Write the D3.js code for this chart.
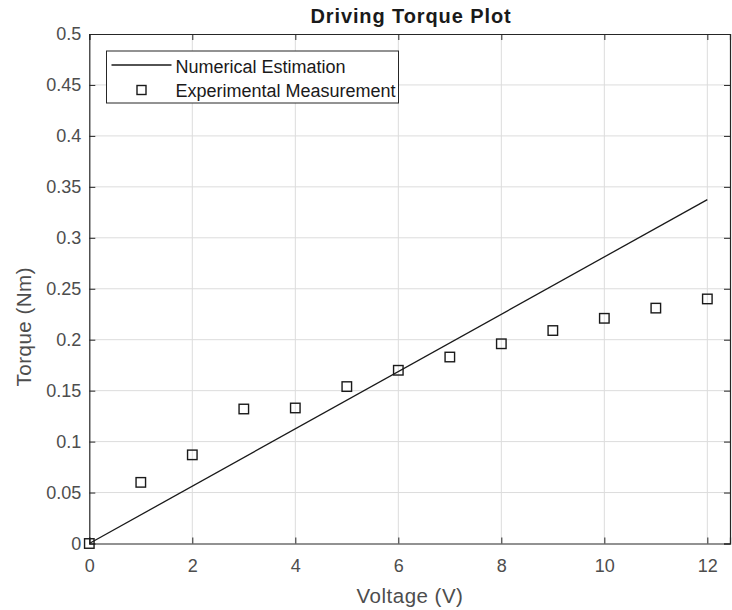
<!DOCTYPE html>
<html>
<head>
<meta charset="utf-8">
<script src="https://cdn.jsdelivr.net/npm/d3@7"></script>
<style>
  body { margin: 0; background: #ffffff; }
  text { font-family: "Liberation Sans", Arial, sans-serif; }
</style>
</head>
<body>
<script>
// measured points
const voltage = [0, 1, 2, 3, 4, 5, 6, 7, 8, 9, 10, 11, 12];
const torqueMeasured = [0, 0.060, 0.087, 0.132, 0.133, 0.154, 0.170, 0.183, 0.196, 0.209, 0.221, 0.231, 0.240];
// numerical estimate (straight line)
const estVoltage = [0, 12];
const torqueEstimated = [0, 0.3375];
const xTicks = [0, 2, 4, 6, 8, 10, 12];
const yTicks = [0, 0.05, 0.1, 0.15, 0.2, 0.25, 0.3, 0.35, 0.4, 0.45, 0.5];
const legendLabels = ["Numerical Estimation", "Experimental Measurement"];

const width = 732, height = 610;
const margin = {top: 34, right: 2, bottom: 66.5, left: 89.3};
const w = width - margin.left - margin.right;
const h = height - margin.top - margin.bottom;

const svg = d3.select("body").append("svg").attr("width", width).attr("height", height).style("background", "#ffffff");

const x = d3.scaleLinear().domain([0, 12.44]).range([0, w]);
const y = d3.scaleLinear().domain([0, 0.5]).range([h, 0]);

const g = svg.append("g").attr("transform", `translate(${margin.left},${margin.top})`);

// grid
g.append("g").selectAll("line").data(xTicks.filter(d => d > 0)).enter().append("line")
  .attr("x1", d => x(d)).attr("x2", d => x(d)).attr("y1", 0).attr("y2", h)
  .attr("stroke", "#dcdcdc").attr("stroke-width", 1);
g.append("g").selectAll("line").data(yTicks.filter(d => d > 0 && d < 0.5)).enter().append("line")
  .attr("x1", 0).attr("x2", w).attr("y1", d => y(d)).attr("y2", d => y(d))
  .attr("stroke", "#dcdcdc").attr("stroke-width", 1);

// axes (ticks inward)
const xAxis = g.append("g").attr("transform", `translate(0,${h})`)
  .call(d3.axisBottom(x).tickValues(xTicks).tickSize(-6).tickPadding(16).tickFormat(d3.format("d")));
const yAxis = g.append("g")
  .call(d3.axisLeft(y).tickValues(yTicks).tickSize(-6).tickPadding(8).tickFormat(d => d === 0 ? "0" : String(+d.toFixed(2))));
const xTop = g.append("g").call(d3.axisTop(x).tickValues(xTicks).tickSize(-6).tickFormat(""));
const yRight = g.append("g").attr("transform", `translate(${w},0)`)
  .call(d3.axisRight(y).tickValues(yTicks).tickSize(-6).tickFormat(""));

[xAxis, yAxis, xTop, yRight].forEach(a => {
  a.select(".domain").attr("stroke", "#262626").attr("stroke-width", 1.2);
  a.selectAll(".tick line").attr("stroke", "#262626");
  a.selectAll(".tick text").attr("fill", "#4d4d4d").style("font-size", "18px").style("font-family", "'Liberation Sans', Arial, sans-serif");
});

// estimate line
const line = d3.line().x(d => x(d[0])).y(d => y(d[1]));
g.append("path").datum(d3.zip(estVoltage, torqueEstimated)).attr("d", line)
  .attr("fill", "none").attr("stroke", "#1a1a1a").attr("stroke-width", 1.3);

// measurement squares
const s = 9.5;
g.append("g").selectAll("rect").data(d3.zip(voltage, torqueMeasured)).enter().append("rect")
  .attr("x", d => x(d[0]) - s / 2).attr("y", d => y(d[1]) - s / 2)
  .attr("width", s).attr("height", s)
  .attr("fill", "none").attr("stroke", "#1a1a1a").attr("stroke-width", 1.4);

// title + labels
svg.append("text").attr("x", 411).attr("y", 23).attr("text-anchor", "middle")
  .style("font-size", "20px").style("font-weight", "bold").style("letter-spacing", "0.9px")
  .attr("fill", "#1a1a1a").text("Driving Torque Plot");
svg.append("text").attr("x", 410).attr("y", 603).attr("text-anchor", "middle")
  .style("font-size", "20.5px").style("letter-spacing", "0.5px").attr("fill", "#4d4d4d").text("Voltage (V)");
svg.append("text").attr("transform", `translate(31,${margin.top + h / 2 + 38}) rotate(-90)`).attr("text-anchor", "middle")
  .style("font-size", "20.5px").style("letter-spacing", "0.5px").attr("fill", "#4d4d4d").text("Torque (Nm)");

// legend
const lg = svg.append("g").attr("transform", "translate(106.5,51)");
lg.append("rect").attr("width", 292).attr("height", 52).attr("fill", "#ffffff")
  .attr("stroke", "#262626").attr("stroke-width", 1);
lg.append("line").attr("x1", 5).attr("x2", 65).attr("y1", 14).attr("y2", 14)
  .attr("stroke", "#1a1a1a").attr("stroke-width", 1.3);
lg.append("rect").attr("x", 35 - 4.5).attr("y", 39 - 4.5).attr("width", 9).attr("height", 9)
  .attr("fill", "none").attr("stroke", "#1a1a1a").attr("stroke-width", 1.4);
lg.selectAll("text.label").data(legendLabels).enter().append("text").classed("label", true)
  .attr("x", 69).attr("y", (d, i) => 22 + i * 23.7)
  .style("font-size", "18px").attr("fill", "#1a1a1a").text(d => d);
</script>
</body>
</html>
